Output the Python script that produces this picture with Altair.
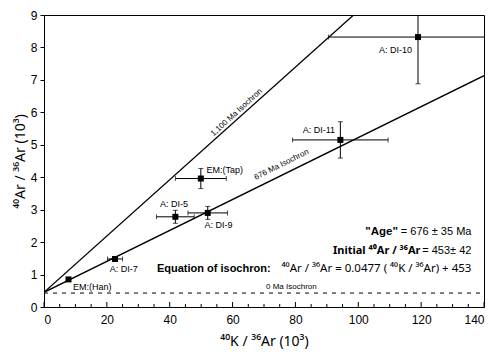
import altair as alt
import pandas as pd

# samples
names = ["EM:(Han)", "A: DI-7", "A: DI-5", "A: DI-9", "EM:(Tap)", "A: DI-11", "A: DI-10"]
kx = [7.8, 22.6, 41.8, 52.1, 49.9, 94.3, 119.0]
kx_err = [0.6, 2.4, 6.0, 6.3, 8.1, 15.2, 28.5]
ary = [0.85, 1.48, 2.78, 2.90, 3.96, 5.15, 8.32]
ary_err = [0.04, 0.05, 0.20, 0.20, 0.31, 0.56, 1.44]
label_x = [9.2, 20.9, 36.9, 51.1, 51.7, 82.3, 106.6]
label_y = [0.63, 1.17, 3.16, 2.54, 4.21, 5.45, 7.91]

# isochron lines (end points)
iso676_x = [0, 140]
iso676_y = [0.453, 7.13]
iso1100_x = [0, 98.5]
iso1100_y = [0.453, 9.0]
iso0_x = [0, 140]
iso0_y = [0.43, 0.43]

iso_labels = ["1,100 Ma  Isochron", "676 Ma  Isochron", "0 Ma  Isochron"]
iso_label_x = [61.3, 75.6, 78.7]
iso_label_y = [5.99, 4.38, 0.62]
iso_label_angle = [317.7, 333.4, 0]

x_major = [0, 20, 40, 60, 80, 100, 120, 140]
x_minor = [5, 10, 15, 25, 30, 35, 45, 50, 55, 65, 70, 75, 85, 90, 95, 105, 110, 115, 125, 130, 135]
y_major = [0, 1, 2, 3, 4, 5, 6, 7, 8, 9]

FONT = "Liberation Sans"
SUPFONT = "Noto Sans"

PLOT_H = 292

pts = pd.DataFrame({
    "name": names, "x": kx, "y": ary,
    "x1": [a - b for a, b in zip(kx, kx_err)], "x2": [a + b for a, b in zip(kx, kx_err)],
    "y1": [a - b for a, b in zip(ary, ary_err)], "y2": [a + b for a, b in zip(ary, ary_err)],
    "lx": label_x, "ly": label_y,
})

xs = alt.Scale(domain=[0, 140], nice=False, zero=False)
ys = alt.Scale(domain=[0, 9], nice=False, zero=False)
xaxis = alt.Axis(values=x_major, title="⁴⁰K / ³⁶Ar  (10³)", ticks=False, domain=True,
                 domainColor="black", labelFontSize=12, labelColor="black", labelFont=FONT,
                 labelPadding=7, titleFont=SUPFONT, titleFontSize=14, titleFontWeight="normal",
                 titleColor="black", titlePadding=9, grid=False)
yaxis = alt.Axis(values=y_major, title="⁴⁰Ar / ³⁶Ar  (10³)", ticks=True, tickSize=4,
                 tickColor="black", domainColor="black", labelFontSize=12, labelColor="black",
                 labelFont=FONT, labelPadding=3, titleFont=SUPFONT, titleFontSize=14,
                 titleFontWeight="normal", titleColor="black", titlePadding=3, grid=False)
X = lambda f: alt.X(f, type="quantitative", scale=xs, axis=xaxis)
Y = lambda f: alt.Y(f, type="quantitative", scale=ys, axis=yaxis)

base = alt.Chart(pts)

xbar = base.mark_rule(color="black", strokeWidth=1, clip=True).encode(x=X("x1"), x2="x2", y=Y("y"))
ybar = base.mark_rule(color="black", strokeWidth=1, clip=True).encode(x=X("x"), y=Y("y1"), y2="y2")
xcap1 = base.mark_tick(color="black", orient="vertical", size=5, thickness=1, clip=True).encode(x=X("x1"), y=Y("y"))
xcap2 = base.mark_tick(color="black", orient="vertical", size=5, thickness=1, clip=True).encode(x=X("x2"), y=Y("y"))
ycap1 = base.mark_tick(color="black", orient="horizontal", size=5, thickness=1, clip=True).encode(x=X("x"), y=Y("y1"))
ycap2 = base.mark_tick(color="black", orient="horizontal", size=5, thickness=1, clip=True).encode(x=X("x"), y=Y("y2"))
squares = base.mark_square(color="black", size=36, opacity=1, filled=True).encode(x=X("x"), y=Y("y"))
labels = base.mark_text(align="left", baseline="middle", fontSize=9, font=FONT, color="black").encode(
    x=X("lx"), y=Y("ly"), text="name:N")

def line(xv, yv, dash=None):
    df = pd.DataFrame({"x": xv, "y": yv})
    kw = dict(color="black", strokeWidth=1.3, clip=True)
    if dash:
        kw["strokeDash"] = dash
        kw["strokeWidth"] = 1
    return alt.Chart(df).mark_line(**kw).encode(x=X("x"), y=Y("y"))

l676 = line(iso676_x, iso676_y)
l1100 = line(iso1100_x, iso1100_y)
l0 = line(iso0_x, iso0_y, dash=[4, 5])

iso_text = []
for t, a, b, ang in zip(iso_labels, iso_label_x, iso_label_y, iso_label_angle):
    iso_text.append(alt.Chart(pd.DataFrame({"x": [a], "y": [b], "t": [t]})).mark_text(
        angle=ang, fontSize=8, font=FONT, color="black", align="center", baseline="middle"
    ).encode(x=X("x"), y=Y("y"), text="t:N"))

# inward x ticks
xt_major = alt.Chart(pd.DataFrame({"x": x_major})).mark_rule(color="black", strokeWidth=1).encode(
    x=X("x"), y=alt.value(PLOT_H), y2=alt.value(PLOT_H - 5))
xt_minor = alt.Chart(pd.DataFrame({"x": x_minor})).mark_rule(color="black", strokeWidth=1).encode(
    x=X("x"), y=alt.value(PLOT_H), y2=alt.value(PLOT_H - 3))

# text block
def txt(s, xv, yv, bold, size=11, font=FONT):
    return alt.Chart(pd.DataFrame({"x": [xv], "y": [yv], "t": [s]})).mark_text(
        align="right", baseline="middle", fontSize=size, font=font, color="black",
        fontWeight="bold" if bold else "normal"
    ).encode(x=X("x"), y=Y("y"), text="t:N")

block = [
    txt('"Age"', 112.6, 2.32, True, 11.5),
    txt("= 676 ± 35 Ma", 136, 2.32, False),
    txt("Initial ⁴⁰Ar / ³⁶Ar", 119.8, 1.73, True, 11, SUPFONT),
    txt("= 453±  42", 136, 1.73, False),
    txt("Equation of isochron:", 72.1, 1.18, True, 11),
    txt("⁴⁰Ar / ³⁶Ar = 0.0477 ( ⁴⁰K / ³⁶Ar) + 453", 136, 1.18, False, 11.5, SUPFONT),
]

chart = alt.layer(
    xbar, ybar, xcap1, xcap2, ycap1, ycap2, l676, l1100, l0, squares, labels, xt_major, xt_minor,
    *iso_text, *block
).properties(
    width=440, height=PLOT_H,
    autosize=alt.AutoSizeParams(type="none"),
    padding={"left": 36, "top": 7, "right": 8, "bottom": 43},
    background="white",
).configure_view(stroke="black", strokeWidth=1)

chart.save("out.html", embed_options={"renderer": "svg", "actions": False})
